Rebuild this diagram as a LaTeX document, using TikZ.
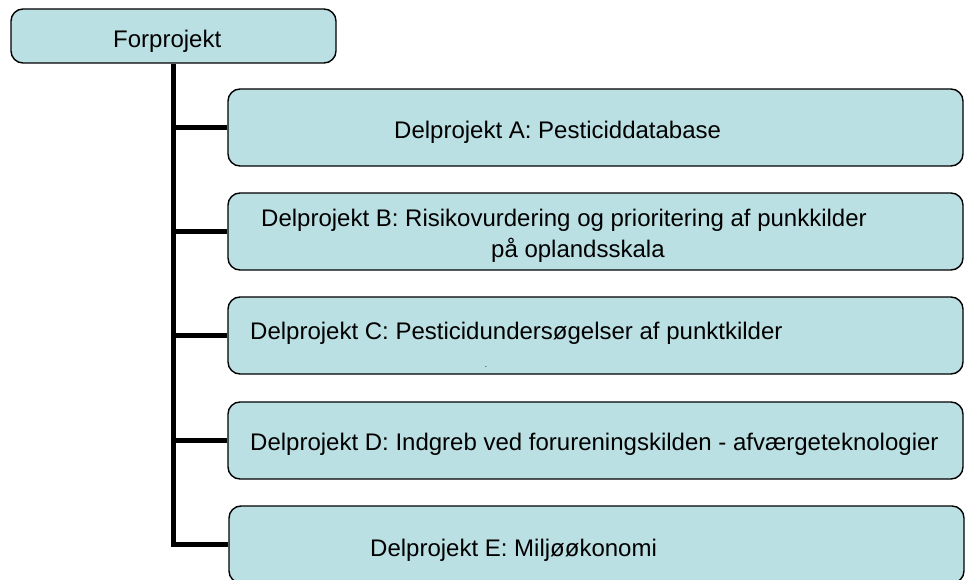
\documentclass[tikz,border=0pt]{standalone}
\usepackage{fontspec}
\setmainfont{Liberation Sans}
\definecolor{boxcyan}{RGB}{187,224,227}

\begin{document}
\begin{tikzpicture}[x=1pt,y=-1pt]

\tikzstyle{mybox}=[
  rectangle,
  rounded corners=12pt,
  draw,
  line width=1.4pt,
  fill=boxcyan,
  inner sep=0pt,
  minimum width=735pt,
  minimum height=77pt]

\tikzstyle{mytop}=[mybox,
  minimum width=325pt,
  minimum height=54pt]

\tikzstyle{mytext}=[anchor=base west, inner sep=0pt,
  font=\fontsize{24}{31}\selectfont]

\tikzstyle{myline}=[line width=5pt, line join=miter]

\clip (0,0) rectangle (967,580);

% define points
\path
  (173.5,36) coordinate(R)
  (595.5,127.5) coordinate(VA)
  (595.5,231.5) coordinate(VB)
  (595.5,335.5) coordinate(VC)
  (595.5,440.5) coordinate(VD)
  (596.5,544.5) coordinate(VE)
  ;

\node[mytop] (F) at (R) {};
\node[mybox] (A) at (VA) {};
\node[mybox] (B) at (VB) {};
\node[mybox] (C) at (VC) {};
\node[mybox] (D) at (VD) {};
\node[mybox] (E) at (VE) {};

% texts
\node[mytext] (tF) at (113,48) {Forprojekt};
\node[mytext] (tA) at (394,139) {Delprojekt A: Pesticiddatabase};
\node[mytext] (tB1) at (261,227) {Delprojekt B: Risikovurdering og prioritering af punkkilder};
\node[mytext] (tB2) at (491,258) {på oplandsskala};
\node[mytext] (tC) at (250,339) {Delprojekt C: Pesticidundersøgelser af punktkilder};
\node[font=\fontsize{8}{8}\selectfont, inner sep=0pt] (tCdot) at (486,367) {.};
\node[mytext] (tD) at (250,450) {Delprojekt D: Indgreb ved forureningskilden - afværgeteknologier};
\node[mytext] (tE) at (370,556) {Delprojekt E: Miljøøkonomi};

% draw lines
\draw[myline]
  (F.south) |- (E.west)
  ;
\foreach \b in {A,B,C,D}
  \draw[myline] (F.south |- \b.west) -- (\b.west);

\end{tikzpicture}
\end{document}
